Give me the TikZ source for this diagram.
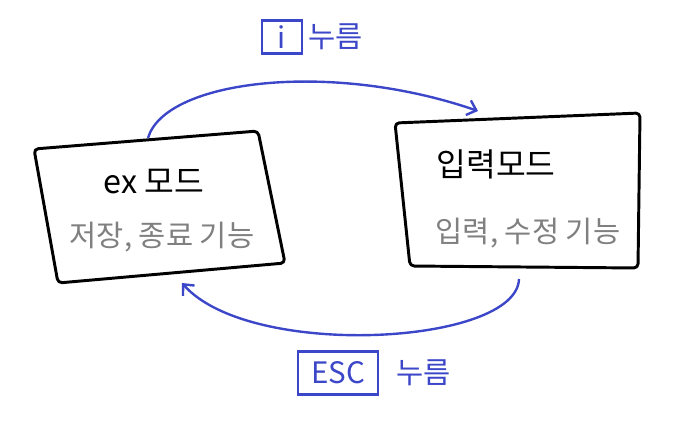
\documentclass[tikz,border=0pt]{standalone}
\usepackage{fontspec}
\setmainfont{Noto Sans CJK KR}
\usetikzlibrary{arrows.meta,positioning}
\definecolor{penblue}{RGB}{60,70,200}
\definecolor{pengray}{RGB}{128,128,128}
\begin{document}
\begin{tikzpicture}[
  x=0.025cm, y=-0.025cm,
  frame/.style={draw=black, line width=2.1pt, fill=white, line join=round, rounded corners=3pt},
  title/.style={font=\fontsize{23}{26}\selectfont, text=black},
  sub/.style={font=\fontsize{21}{24}\selectfont, text=pengray},
  keybox/.style={draw=penblue, line width=1.6pt, text=penblue, font=\fontsize{21}{24}\selectfont, inner sep=0pt},
  lbl/.style={text=penblue, font=\fontsize{21}{24}\selectfont},
  arr/.style={-{Straight Barb[length=6pt,width=11pt]}, draw=penblue, line width=1.7pt}
]
\useasboundingbox (0,0) rectangle (685,442);
\draw[frame] (34,149) -- (258,131) -- (285,263) -- (58,283) -- cycle;
\draw[frame] (395,123) -- (640,113) -- (638,268) -- (410,266) -- cycle;
\node[title] (exName) at (154,182) {ex 모드};
\node[sub] (exFunc) at (162,237) {저장, 종료 기능};
\node[title] (insName) at (496,164) {입력모드};
\node[sub] (insFunc) at (528,233) {입력, 수정 기능};
\coordinate (exTop) at (148,138);
\coordinate (exBot) at (182,283);
\coordinate (insTop) at (478,111);
\coordinate (insBot) at (519,279);
\draw[arr] (exTop) .. controls (165,80) and (330,60) .. (insTop);
\draw[arr] (insBot) .. controls (517,345) and (250,360) .. (exBot);
\node[keybox, minimum width=1cm, minimum height=0.82cm] (iKey) at (282,37) {i};
\node[lbl, right=0pt of iKey] (iPress) {누름};
\node[keybox, minimum width=2cm, minimum height=1.07cm] (escKey) at (338,373) {ESC};
\node[lbl, right=9pt of escKey] (escPress) {누름};
\end{tikzpicture}
\end{document}
